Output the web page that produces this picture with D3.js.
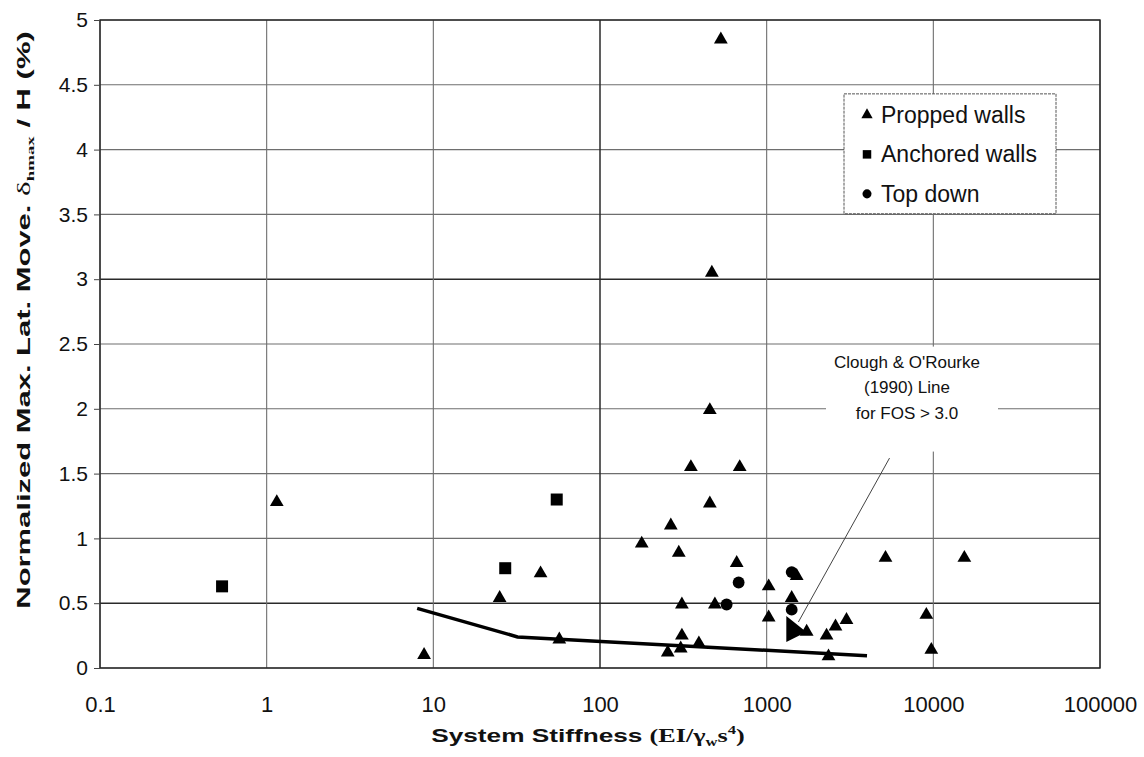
<!DOCTYPE html>
<html>
<head>
<meta charset="utf-8">
<script src="https://cdn.jsdelivr.net/npm/d3@7"></script>
<style>
  html, body { margin: 0; padding: 0; background: #fff; }
  svg { display: block; font-family: "Liberation Sans", Arial, sans-serif; }
</style>
</head>
<body>
<svg id="chart" width="1144" height="757"></svg>
<script>
// ---------- data ----------
const xTicks = [0.1, 1, 10, 100, 1000, 10000, 100000];
const xTickLabels = ["0.1", "1", "10", "100", "1000", "10000", "100000"];
const yTicks = [0, 0.5, 1, 1.5, 2, 2.5, 3, 3.5, 4, 4.5, 5];
const yTickLabels = ["0", "0.5", "1", "1.5", "2", "2.5", "3", "3.5", "4", "4.5", "5"];

// Propped walls [stiffness, normalized movement %]
const proppedWalls = [
  [1.15, 1.28], [8.8, 0.1], [25, 0.54], [44, 0.73], [57, 0.22],
  [178, 0.96], [266, 1.10], [255, 0.12], [297, 0.89], [310, 0.49],
  [310, 0.25], [305, 0.15], [392, 0.19], [351, 1.55], [456, 1.27],
  [456, 1.99], [469, 3.05], [531, 4.85], [489, 0.49], [689, 1.55],
  [661, 0.81], [1028, 0.63], [1028, 0.39], [1514, 0.71], [1413, 0.54],
  [1738, 0.28], [2288, 0.25], [2350, 0.09], [2588, 0.32], [3013, 0.37],
  [5165, 0.85], [9080, 0.41], [9725, 0.14], [15350, 0.85]
];
const anchoredWalls = [[0.54, 0.63], [27, 0.77], [55, 1.30]];
const topDown = [[575, 0.49], [679, 0.66], [1413, 0.74], [1413, 0.45]];

// Clough & O'Rourke (1990) line for FOS > 3.0
const cloughLine = [[8, 0.46], [32, 0.24], [4000, 0.095]];
// leader from annotation text to the line
const leader = [[5460, 1.62], [1550, 0.355]];
const arrowTip = [1445, 0.30];

const legendLabels = ["Propped walls", "Anchored walls", "Top down"];
const annotationLines = ["Clough & O'Rourke", "(1990) Line", "for FOS > 3.0"];

// ---------- layout ----------
const W = 1144, H = 757;
const margin = { left: 100, right: 44, top: 20, bottom: 89 };
const svg = d3.select("#chart");
const serif = "'Liberation Serif', 'Times New Roman', serif";

const x = d3.scaleLog().domain([0.1, 100000]).range([margin.left, W - margin.right]);
const y = d3.scaleLinear().domain([0, 5]).range([H - margin.bottom, margin.top]);

const gridColor = "#6e6e6e";

// gridlines
svg.append("g").selectAll("line").data(yTicks).join("line")
  .attr("x1", x(0.1)).attr("x2", x(100000))
  .attr("y1", d => y(d)).attr("y2", d => y(d))
  .attr("stroke", d => (d === 3 || d === 0.5) ? "#2a2a2a" : gridColor)
  .attr("stroke-width", d => (d === 3 || d === 0.5) ? 1.6 : 1.1);
svg.append("g").selectAll("line").data(xTicks).join("line")
  .attr("x1", d => x(d)).attr("x2", d => x(d))
  .attr("y1", y(0)).attr("y2", y(5))
  .attr("stroke", d => d === 100 ? "#2a2a2a" : gridColor)
  .attr("stroke-width", d => d === 100 ? 1.5 : 1.1);

// frame
svg.append("rect")
  .attr("x", x(0.1)).attr("y", y(5))
  .attr("width", x(100000) - x(0.1)).attr("height", y(0) - y(5))
  .attr("fill", "none").attr("stroke", "#222").attr("stroke-width", 1.4);

// axes
const yAxis = d3.axisLeft(y).tickValues(yTicks)
  .tickFormat((d, i) => yTickLabels[i]).tickSize(6).tickPadding(6);
const gy = svg.append("g").attr("transform", `translate(${x(0.1)},0)`).call(yAxis);
gy.select(".domain").remove();
gy.selectAll("text").attr("font-size", 21).attr("fill", "#111")
  .attr("font-family", "'Liberation Sans', Arial, sans-serif");
gy.selectAll("line").attr("stroke", "#444");

const xAxis = d3.axisBottom(x).tickValues(xTicks)
  .tickFormat((d, i) => xTickLabels[i]).tickSize(0).tickPadding(28);
const gx = svg.append("g").attr("transform", `translate(0,${y(0)})`).call(xAxis);
gx.select(".domain").remove();
gx.selectAll("text").attr("font-size", 22).attr("fill", "#111")
  .attr("font-family", "'Liberation Sans', Arial, sans-serif");

// annotation background + text
const annX = 907;
const annTop = y(2.48);
svg.append("rect").attr("x", 826).attr("y", annTop).attr("width", 172).attr("height", y(1.67) - annTop)
  .attr("fill", "#fff");
svg.append("g").selectAll("text").data(annotationLines).join("text")
  .attr("x", annX).attr("y", (d, i) => annTop + 21 + i * 25.5)
  .attr("text-anchor", "middle").attr("font-size", 17).attr("fill", "#111")
  .text(d => d);

// leader line
svg.append("line")
  .attr("x1", x(leader[0][0])).attr("y1", y(leader[0][1]))
  .attr("x2", x(leader[1][0])).attr("y2", y(leader[1][1]))
  .attr("stroke", "#444").attr("stroke-width", 1);

// Clough line
svg.append("path").datum(cloughLine)
  .attr("d", d3.line().x(d => x(d[0])).y(d => y(d[1])))
  .attr("fill", "none").attr("stroke", "#000").attr("stroke-width", 3.5);

// markers
const tri = d3.symbol().type(d3.symbolTriangle).size(82);
const sq = d3.symbol().type(d3.symbolSquare).size(144);
const circ = d3.symbol().type(d3.symbolCircle).size(110);

svg.append("g").selectAll("path").data(proppedWalls).join("path")
  .attr("transform", d => `translate(${x(d[0])},${y(d[1])})`)
  .attr("d", tri).attr("fill", "#000");
svg.append("g").selectAll("path").data(anchoredWalls).join("path")
  .attr("transform", d => `translate(${x(d[0])},${y(d[1])})`)
  .attr("d", sq).attr("fill", "#000");
svg.append("g").selectAll("path").data(topDown).join("path")
  .attr("transform", d => `translate(${x(d[0])},${y(d[1])})`)
  .attr("d", circ).attr("fill", "#000");

// arrowhead
const ax = x(arrowTip[0]), ay = y(arrowTip[1]);
svg.append("path")
  .attr("d", `M${ax - 7},${ay - 13} L${ax + 13},${ay + 3} L${ax - 7},${ay + 13} Z`)
  .attr("fill", "#000");

// legend
const lg = svg.append("g");
const lgX = 844, lgY = y(4.43);
lg.append("rect").attr("x", lgX).attr("y", lgY).attr("width", 212).attr("height", y(3.505) - lgY)
  .attr("fill", "#fff").attr("stroke", "#555").attr("stroke-width", 1).attr("stroke-dasharray", "3,1");
const legendSymbols = [
  d3.symbol().type(d3.symbolTriangle).size(55),
  d3.symbol().type(d3.symbolSquare).size(72),
  d3.symbol().type(d3.symbolCircle).size(64)
];
legendLabels.forEach((lab, i) => {
  const cy = lgY + 21 + i * 39.5;
  lg.append("path").attr("transform", `translate(${lgX + 23},${cy})`)
    .attr("d", legendSymbols[i]).attr("fill", "#000");
  lg.append("text").attr("x", lgX + 37).attr("y", cy + 8)
    .attr("font-size", 23).attr("fill", "#111").text(lab);
});

// y axis title (stretched along its length like the scanned original)
const yt = svg.append("text")
  .attr("transform", `translate(30,${y(2.5) - 24}) rotate(-90) scale(1.72,1)`)
  .attr("text-anchor", "middle").attr("font-size", 18).attr("font-weight", "bold").attr("fill", "#111");
yt.append("tspan").text("Normalized Max. Lat. Move. ");
yt.append("tspan").attr("font-family", serif).attr("font-weight", "normal").text("δ");
yt.append("tspan").attr("font-family", serif).attr("font-size", 11).attr("dy", 4).text("hmax");
yt.append("tspan").attr("dy", -4).text(" / H (%)");

// x axis title
const xt = svg.append("text")
  .attr("transform", "translate(588,742) scale(1.38,1)")
  .attr("text-anchor", "middle").attr("font-size", 19).attr("font-weight", "bold").attr("fill", "#111");
xt.append("tspan").text("System Stiffness  ");
xt.append("tspan").attr("font-family", serif).text("(EI/γ");
xt.append("tspan").attr("font-family", serif).attr("font-size", 12).attr("dy", 4).text("w");
xt.append("tspan").attr("font-family", serif).attr("dy", -4).text("s");
xt.append("tspan").attr("font-family", serif).attr("font-size", 12).attr("dy", -8).text("4");
xt.append("tspan").attr("font-family", serif).attr("dy", 8).text(")");
</script>
</body>
</html>
